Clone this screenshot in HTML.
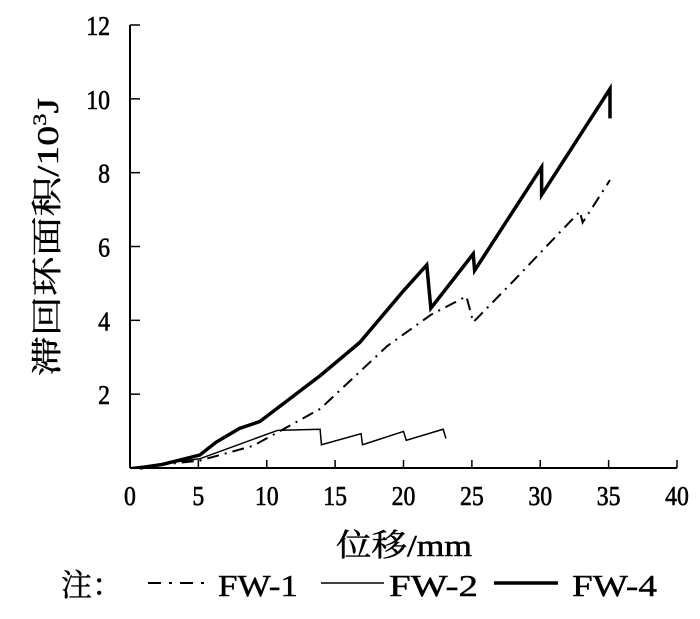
<!DOCTYPE html>
<html><head><meta charset="utf-8"><style>
body{margin:0;background:#fff;width:700px;height:614px;overflow:hidden}
svg text{font-family:"Liberation Serif","Noto Serif CJK SC",serif;fill:#000}
</style></head><body>
<svg id="chart" width="700" height="614" viewBox="0 0 700 614" xmlns="http://www.w3.org/2000/svg">
<g id="axes"></g>
<g id="series"></g>
<text transform="translate(58,237) rotate(-90)" text-anchor="middle" font-size="31" stroke="#000" stroke-width="0.4" textLength="278" lengthAdjust="spacingAndGlyphs">滞回环面积/10<tspan font-size="19" dy="-12">3</tspan><tspan dy="12">J</tspan></text>
<text x="336" y="556" font-size="31" stroke="#000" stroke-width="0.5" textLength="136" lengthAdjust="spacingAndGlyphs">位移/mm</text>
<g>
<text x="61" y="596" font-size="31" stroke="#000" stroke-width="0.4" textLength="62" lengthAdjust="spacingAndGlyphs">注：</text>
<line x1="148" y1="583" x2="206" y2="583" stroke="#000" stroke-width="2" stroke-dasharray="13,8,3,8"/>
<text x="218" y="596" font-size="31" stroke="#000" stroke-width="0.4" textLength="80" lengthAdjust="spacingAndGlyphs">FW-1</text>
<line x1="321" y1="583" x2="384" y2="583" stroke="#000" stroke-width="1.5"/>
<text x="389" y="596" font-size="31" stroke="#000" stroke-width="0.4" textLength="89" lengthAdjust="spacingAndGlyphs">FW-2</text>
<line x1="494" y1="583" x2="558" y2="583" stroke="#000" stroke-width="3.5"/>
<text x="572" y="596" font-size="31" stroke="#000" stroke-width="0.4" textLength="85" lengthAdjust="spacingAndGlyphs">FW-4</text>
</g>
</svg>
<script>
const xTicks=[0,5,10,15,20,25,30,35,40];
const yTicks=[2,4,6,8,10,12];
const fw1X=[0,5.1,9,13.9,18.8,22,24.6,25.1,28,31.6,32.9,33.1,35.1];
const fw1Y=[0,0.2,0.6,1.6,3.3,4.15,4.65,3.95,5.05,6.45,6.95,6.65,7.8];
const fw2X=[0,5.1,10.8,13.9,14.0,16.9,17.0,20,20.2,22.9,23.1];
const fw2Y=[0,0.25,1.02,1.05,0.63,0.93,0.63,0.99,0.75,1.05,0.8];
const fw4X=[0.7,2.4,5.1,6.3,8.0,9.5,13.9,16.8,20,21.7,22.0,25.1,25.2,30.1,30.1,35.1,35.1];
const fw4Y=[0,0.1,0.35,0.7,1.07,1.26,2.5,3.4,4.8,5.5,4.33,5.8,5.35,8.15,7.4,10.27,9.47];
const NS='http://www.w3.org/2000/svg';
const X0=130,X1=677,Y0=468,Y1=25;
function sx(v){return X0+(X1-X0)*v/40;}
function sy(v){return Y0-(Y0-Y1)*v/12;}
const axes=document.getElementById('axes');
function mk(t,a,p){const e=document.createElementNS(NS,t);for(const k in a)e.setAttribute(k,a[k]);p.appendChild(e);return e;}
const xa=mk('line',{x1:X0,y1:Y0,x2:X1,y2:Y0,stroke:'#000','stroke-width':2},axes);


const ya=mk('line',{x1:X0,y1:Y0,x2:X0,y2:Y1,stroke:'#000','stroke-width':2},axes);


xTicks.forEach(v=>{
 if(v>0){const t=mk('line',{x1:sx(v),y1:Y0,x2:sx(v),y2:Y0-8,stroke:'#000','stroke-width':1.5},axes);
 
 }
 const l=mk('text',{transform:'translate('+sx(v)+','+(Y0+37)+') scale(0.88,1)','text-anchor':'middle','font-size':27,stroke:'#000','stroke-width':0.6},axes);l.textContent=v;
 
 
});
yTicks.forEach(v=>{
 const t=mk('line',{x1:X0,y1:sy(v),x2:X0+10,y2:sy(v),stroke:'#000','stroke-width':1.5},axes);
 
 
 const l=mk('text',{transform:'translate(110,'+(sy(v)+10)+') scale(0.88,1)','text-anchor':'end','font-size':27,stroke:'#000','stroke-width':0.6},axes);l.textContent=v;
 
 
});
const sg=document.getElementById('series');
function line(xs,ys,w,dash,name){
 const p=mk('polyline',{points:xs.map((x,i)=>sx(x)+','+sy(ys[i])).join(' '),fill:'none',stroke:'#000','stroke-width':w,'stroke-linejoin':'miter'},sg);
 if(dash)p.setAttribute('stroke-dasharray',dash);
 
 
}
line(fw1X,fw1Y,2,'12,6,2,6','series-fw1');
line(fw2X,fw2Y,1.5,null,'series-fw2');
line(fw4X,fw4Y,3.5,null,'series-fw4');
</script>
</body></html>
